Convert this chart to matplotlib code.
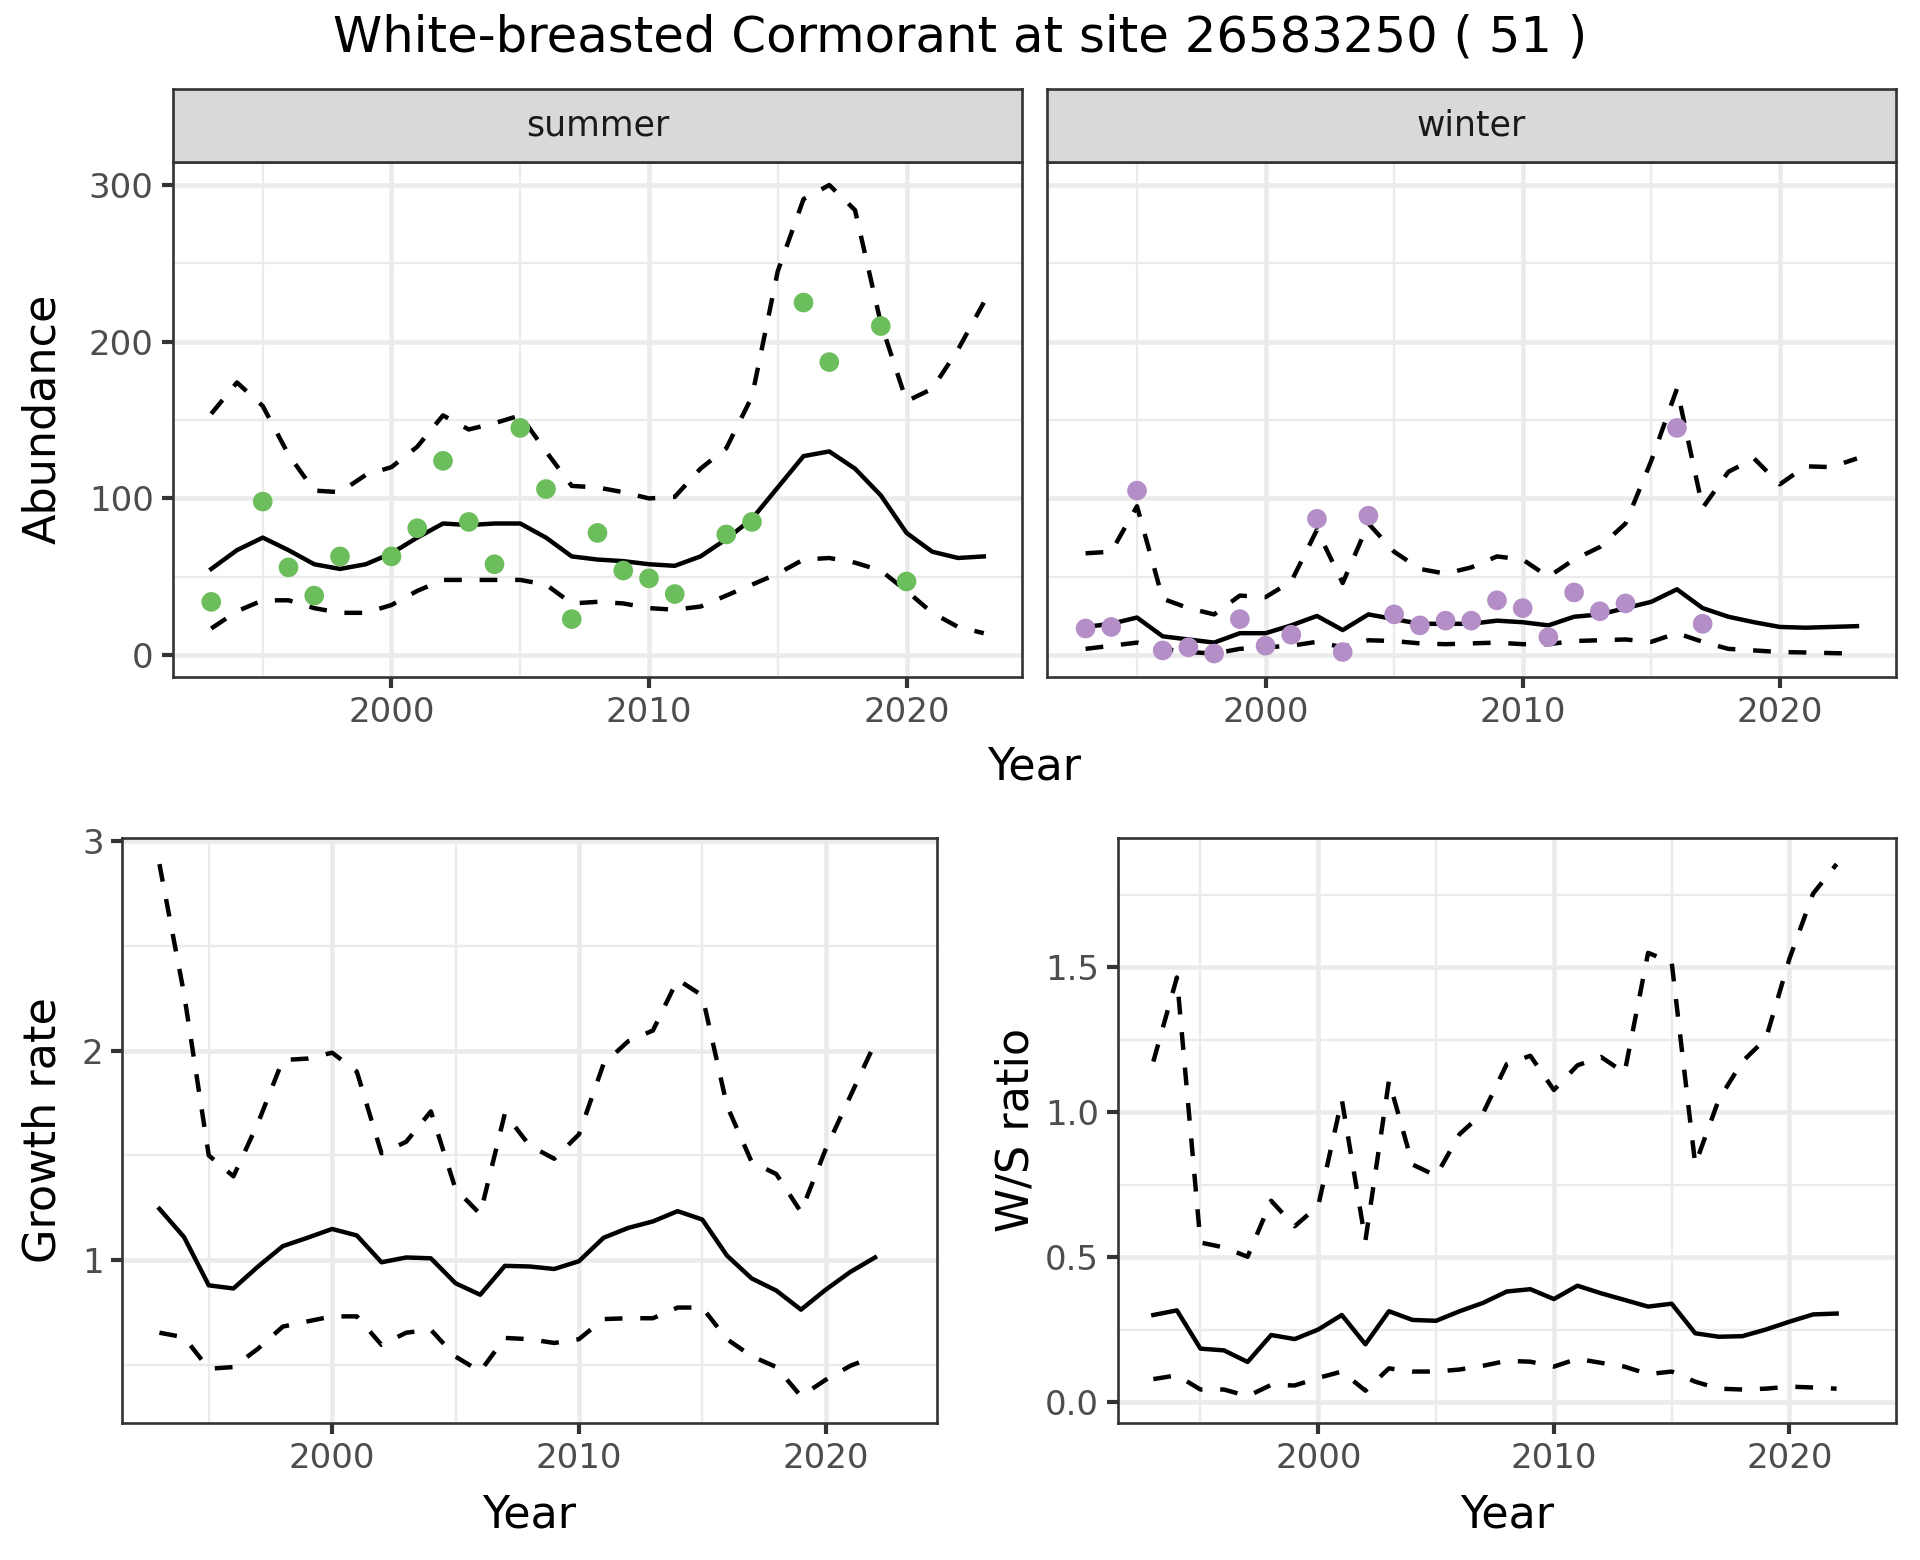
import matplotlib.pyplot as plt
import numpy as np
from matplotlib.ticker import MultipleLocator

######################################################################################################################
# Daten
years = np.arange(1993, 2024)          # 1993 .. 2023
years_g = np.arange(1993, 2023)        # 1993 .. 2022 (growth / ratio)

# Abundance summer
summer_mid = [55, 67, 75, 67, 58, 55, 58, 65, 75, 84, 83, 84, 84, 75, 63, 61, 60, 58, 57, 63, 74, 87, 107, 127,
              130, 119, 102, 78, 66, 62, 63]
summer_up = [154, 174, 159, 128, 105, 104, 115, 120, 133, 153, 144, 148, 153, 130, 108, 107, 104, 100, 101, 119,
             132, 165, 245, 291, 300, 284, 212, 162, 170, 195, 225]
summer_lo = [17, 28, 35, 35, 30, 27, 27, 32, 41, 48, 48, 48, 48, 45, 33, 34, 33, 30, 29, 31, 38, 45, 52, 61, 62,
             59, 54, 41, 27, 18, 14]
summer_obs_year = [1993, 1995, 1996, 1997, 1998, 2000, 2001, 2002, 2003, 2004, 2005, 2006, 2007, 2008, 2009, 2010,
                   2011, 2013, 2014, 2016, 2017, 2019, 2020]
summer_obs = [34, 98, 56, 38, 63, 63, 81, 124, 85, 58, 145, 106, 23, 78, 54, 49, 39, 77, 85, 225, 187, 210, 47]

# Abundance winter
winter_mid = [18, 20, 24, 12, 10, 8, 14, 14, 19, 25, 16, 26, 23, 20, 20, 20, 22, 21, 19, 24.5, 26, 30, 34, 42, 30,
              24.5, 21, 18, 17.5, 18, 18.5]
winter_up = [65, 66, 95, 36, 30, 26, 38, 37, 47, 80, 46, 84, 66, 55, 52, 56, 63, 61, 50, 61, 69, 84, 124, 170, 94,
             117, 125.5, 109, 120.5, 120, 125.5]
winter_lo = [4, 6, 8, 4, 2, 1, 4, 5, 6, 8.5, 5, 9.5, 9, 7.5, 7, 7.5, 8, 7, 7, 9, 9.5, 10, 8.5, 14, 8.5, 4, 3, 2,
             1.7, 1.3, 1]
winter_obs_year = [1993, 1994, 1995, 1996, 1997, 1998, 1999, 2000, 2001, 2002, 2003, 2004, 2005, 2006, 2007, 2008,
                   2009, 2010, 2011, 2012, 2013, 2014, 2016, 2017]
winter_obs = [17, 18, 105, 3, 5, 1, 23, 6, 13, 87, 2, 89, 26, 19, 22, 22, 35, 30, 11.5, 40, 28, 33, 145, 20]

# Growth rate
growth_mid = [1.245, 1.11, 0.88, 0.865, 0.97, 1.067, 1.107, 1.149, 1.118, 0.99, 1.013, 1.009, 0.89, 0.835, 0.973,
              0.97, 0.958, 0.995, 1.107, 1.154, 1.185, 1.234, 1.194, 1.022, 0.913, 0.855, 0.764, 0.859, 0.944, 1.013]
growth_up = [2.89, 2.27, 1.5, 1.40, 1.656, 1.955, 1.962, 1.99, 1.90, 1.51, 1.565, 1.71, 1.34, 1.22, 1.70, 1.547,
             1.484, 1.60, 1.937, 2.045, 2.096, 2.339, 2.263, 1.737, 1.469, 1.411, 1.23, 1.529, 1.783, 2.036]
growth_lo = [0.654, 0.632, 0.482, 0.49, 0.578, 0.683, 0.708, 0.732, 0.732, 0.596, 0.654, 0.668, 0.54, 0.469, 0.629,
             0.623, 0.605, 0.623, 0.719, 0.723, 0.723, 0.774, 0.774, 0.623, 0.542, 0.49, 0.351, 0.429, 0.496, 0.542]

# W/S ratio
ws_mid = [0.30, 0.316, 0.184, 0.178, 0.138, 0.231, 0.217, 0.25, 0.30, 0.199, 0.313, 0.283, 0.28, 0.313, 0.342,
          0.381, 0.389, 0.355, 0.401, 0.375, 0.352, 0.329, 0.339, 0.237, 0.225, 0.227, 0.25, 0.277, 0.302, 0.305]
ws_up = [1.174, 1.464, 0.55, 0.533, 0.501, 0.694, 0.606, 0.677, 1.043, 0.556, 1.108, 0.819, 0.78, 0.924, 0.997,
         1.165, 1.194, 1.076, 1.161, 1.19, 1.135, 1.549, 1.516, 0.819, 1.043, 1.174, 1.253, 1.529, 1.753, 1.855]
ws_lo = [0.079, 0.092, 0.043, 0.043, 0.02, 0.059, 0.057, 0.083, 0.105, 0.039, 0.116, 0.105, 0.105, 0.112, 0.125,
         0.142, 0.139, 0.122, 0.149, 0.135, 0.122, 0.096, 0.105, 0.07, 0.046, 0.043, 0.046, 0.053, 0.05, 0.046]

title = 'White-breasted Cormorant at site 26583250 ( 51 )'
col_summer = '#6CBD5B'
col_winter = '#B48EC6'

######################################################################################################################
W, H = 1920, 1560
fig = plt.figure(figsize=(W / 100, H / 100), dpi=100)


def box(left, top, right, bottom):
    # Pixel-Box -> Figure-Koordinaten
    return [left / W, 1 - bottom / H, (right - left) / W, (bottom - top) / H]


def expand(lo, hi, f=0.05):
    d = (hi - lo) * f
    return lo - d, hi + d


def style(ax):
    ax.set_facecolor('white')
    ax.grid(True, which='major', color='#EBEBEB', lw=3.3)
    ax.grid(True, which='minor', color='#EBEBEB', lw=1.7)
    ax.set_axisbelow(True)
    for s in ax.spines.values():
        s.set_color('#333333')
        s.set_linewidth(1.9)
    ax.tick_params(which='major', length=7.6, width=3.0, color='#333333', labelsize=24.5,
                   labelcolor='#4D4D4D', pad=6)
    ax.tick_params(which='minor', length=0)
    ax.xaxis.set_major_locator(MultipleLocator(10))
    ax.xaxis.set_minor_locator(MultipleLocator(5))
    ax.set_xlim(*expand(years[0], years[-1]))


def strip(rect, label):
    sa = fig.add_axes(rect)
    sa.set_facecolor('#D9D9D9')
    sa.set_xticks([])
    sa.set_yticks([])
    for s in sa.spines.values():
        s.set_color('#333333')
        s.set_linewidth(1.9)
    sa.text(0.5, 0.5, label, transform=sa.transAxes, ha='center', va='center', fontsize=25, color='#1A1A1A')


def bands(ax, x, mid, up, lo):
    ax.plot(x, mid, color='black', lw=3.2, solid_joinstyle='round', zorder=3)
    ax.plot(x, up, color='black', lw=3.2, ls=(0, (4.0, 4.0)), zorder=3)
    ax.plot(x, lo, color='black', lw=3.2, ls=(0, (4.0, 4.0)), zorder=3)


# Abundance: summer / winter
ax_s = fig.add_axes(box(172.6, 161.6, 1022.4, 677))
ax_w = fig.add_axes(box(1047, 161.6, 1895.5, 677))
strip(box(172.6, 89.4, 1022.4, 161.6), 'summer')
strip(box(1047, 89.4, 1895.5, 161.6), 'winter')

ab_lo = min(min(summer_lo), min(winter_lo), min(summer_obs), min(winter_obs))
ab_hi = max(max(summer_up), max(winter_up), max(summer_obs), max(winter_obs))

for ax, mid, up, lo, oy, ov, c in [(ax_s, summer_mid, summer_up, summer_lo, summer_obs_year, summer_obs, col_summer),
                                   (ax_w, winter_mid, winter_up, winter_lo, winter_obs_year, winter_obs, col_winter)]:
    style(ax)
    bands(ax, years, mid, up, lo)
    ax.scatter(oy, ov, s=200, color=c, edgecolors='none', zorder=4)
    ax.yaxis.set_major_locator(MultipleLocator(100))
    ax.yaxis.set_minor_locator(MultipleLocator(50))
    ax.set_ylim(*expand(ab_lo, ab_hi))

ax_w.tick_params(left=False, labelleft=False)

# Growth rate
ax_g = fig.add_axes(box(122.4, 837.5, 936.7, 1422.8))
style(ax_g)
bands(ax_g, years_g, growth_mid, growth_up, growth_lo)
ax_g.yaxis.set_major_locator(MultipleLocator(1))
ax_g.yaxis.set_minor_locator(MultipleLocator(0.5))
ax_g.set_ylim(*expand(min(growth_lo), max(growth_up)))

# W/S ratio
ax_r = fig.add_axes(box(1118, 837.5, 1895.5, 1422.8))
style(ax_r)
bands(ax_r, years_g, ws_mid, ws_up, ws_lo)
ax_r.yaxis.set_major_locator(MultipleLocator(0.5))
ax_r.yaxis.set_minor_locator(MultipleLocator(0.25))
ax_r.yaxis.set_major_formatter(plt.FormatStrFormatter('%.1f'))
ax_r.set_ylim(*expand(min(ws_lo), max(ws_up)))

# Beschriftungen
fig.text(960 / W, 1 - 37 / H, title, ha='center', va='center', fontsize=35.8, color='black')
fig.text(1034 / W, 1 - 767 / H, 'Year', ha='center', va='center', fontsize=32)
fig.text(529.6 / W, 1 - 1514.6 / H, 'Year', ha='center', va='center', fontsize=32)
fig.text(1506.8 / W, 1 - 1514.6 / H, 'Year', ha='center', va='center', fontsize=32)
fig.text(43 / W, 1 - 419 / H, 'Abundance', ha='center', va='center', rotation=90, fontsize=32)
fig.text(43 / W, 1 - 1130 / H, 'Growth rate', ha='center', va='center', rotation=90, fontsize=32)
fig.text(1016 / W, 1 - 1130 / H, 'W/S ratio', ha='center', va='center', rotation=90, fontsize=32)

plt.savefig('out.png', dpi=100, facecolor='white')
